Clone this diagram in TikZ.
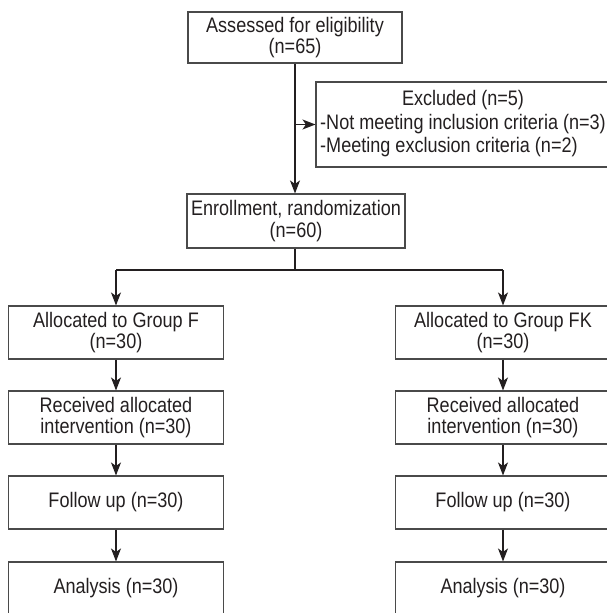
\documentclass[tikz,border=0pt]{standalone}
\usepackage{fontspec}
\setmainfont{Liberation Sans}[FakeStretch=0.86]
\usetikzlibrary{arrows.meta, positioning}
\definecolor{boxline}{HTML}{4A4A4A}
\definecolor{boxtext}{HTML}{231F20}

\begin{document}
\begin{tikzpicture}[x=1pt, y=-1pt,
    flowbox/.style={draw=boxline, line width=1.1pt, text=boxtext, align=center, inner sep=2pt, font=\fontsize{21}{21.5}\selectfont},
    colbox/.style={flowbox, minimum width=215pt, minimum height=53pt},
    flowline/.style={draw=boxtext, line width=1.2pt},
    flowarrow/.style={flowline, -{Stealth[length=13pt, width=10pt, inset=3.5pt]}}]
    \useasboundingbox (0,0) rectangle (607,613);
    \clip (0,0) rectangle (607,613);

    % screening and enrollment
    \node[flowbox, minimum width=214pt, minimum height=51pt] (assess) at (295,37.5) {Assessed for eligibility\\(n=65)};
    \node[flowbox, font=\fontsize{21}{23.5}\selectfont, minimum width=294pt, minimum height=85pt] (excl) at (463,124.5) {%
        \begin{tabular}{@{}l@{}}
            \multicolumn{1}{@{}c@{}}{Excluded (n=5)}\\
            -Not meeting inclusion criteria (n=3)\\
            -Meeting exclusion criteria (n=2)
        \end{tabular}};
    \node[flowbox, minimum width=218pt, minimum height=54pt] (enrol) at (296,221) {Enrollment, randomization\\(n=60)};

    % group F
    \node[colbox] (lalloc) at (116,332.5) {Allocated to Group F\\(n=30)};
    \node[colbox] (lrecv) at (116,417.5) {Received allocated\\intervention (n=30)};
    \node[colbox] (lfollow) at (116,502.5) {Follow up (n=30)};
    \node[colbox] (lanaly) at (116,588.5) {Analysis (n=30)};

    % group FK
    \node[colbox] (ralloc) at (503,332.5) {Allocated to Group FK\\(n=30)};
    \node[colbox] (rrecv) at (503,417.5) {Received allocated\\intervention (n=30)};
    \node[colbox] (rfollow) at (503,502.5) {Follow up (n=30)};
    \node[colbox] (ranaly) at (503,588.5) {Analysis (n=30)};

    % connectors
    \draw[flowarrow] (assess.south) -- (assess.south |- enrol.north);
    \draw[flowarrow] (assess.south |- excl.west) -- (excl.west);
    \coordinate (split) at (295,270);
    \draw[flowline] (split |- enrol.south) -- (split);
    \draw[flowline] (lalloc.north |- split) -- (ralloc.north |- split);
    \draw[flowarrow] (lalloc.north |- split) -- (lalloc.north);
    \draw[flowarrow] (ralloc.north |- split) -- (ralloc.north);
    \draw[flowarrow] (lalloc) -- (lrecv);
    \draw[flowarrow] (lrecv) -- (lfollow);
    \draw[flowarrow] (lfollow) -- (lanaly);
    \draw[flowarrow] (ralloc) -- (rrecv);
    \draw[flowarrow] (rrecv) -- (rfollow);
    \draw[flowarrow] (rfollow) -- (ranaly);
\end{tikzpicture}
\end{document}
